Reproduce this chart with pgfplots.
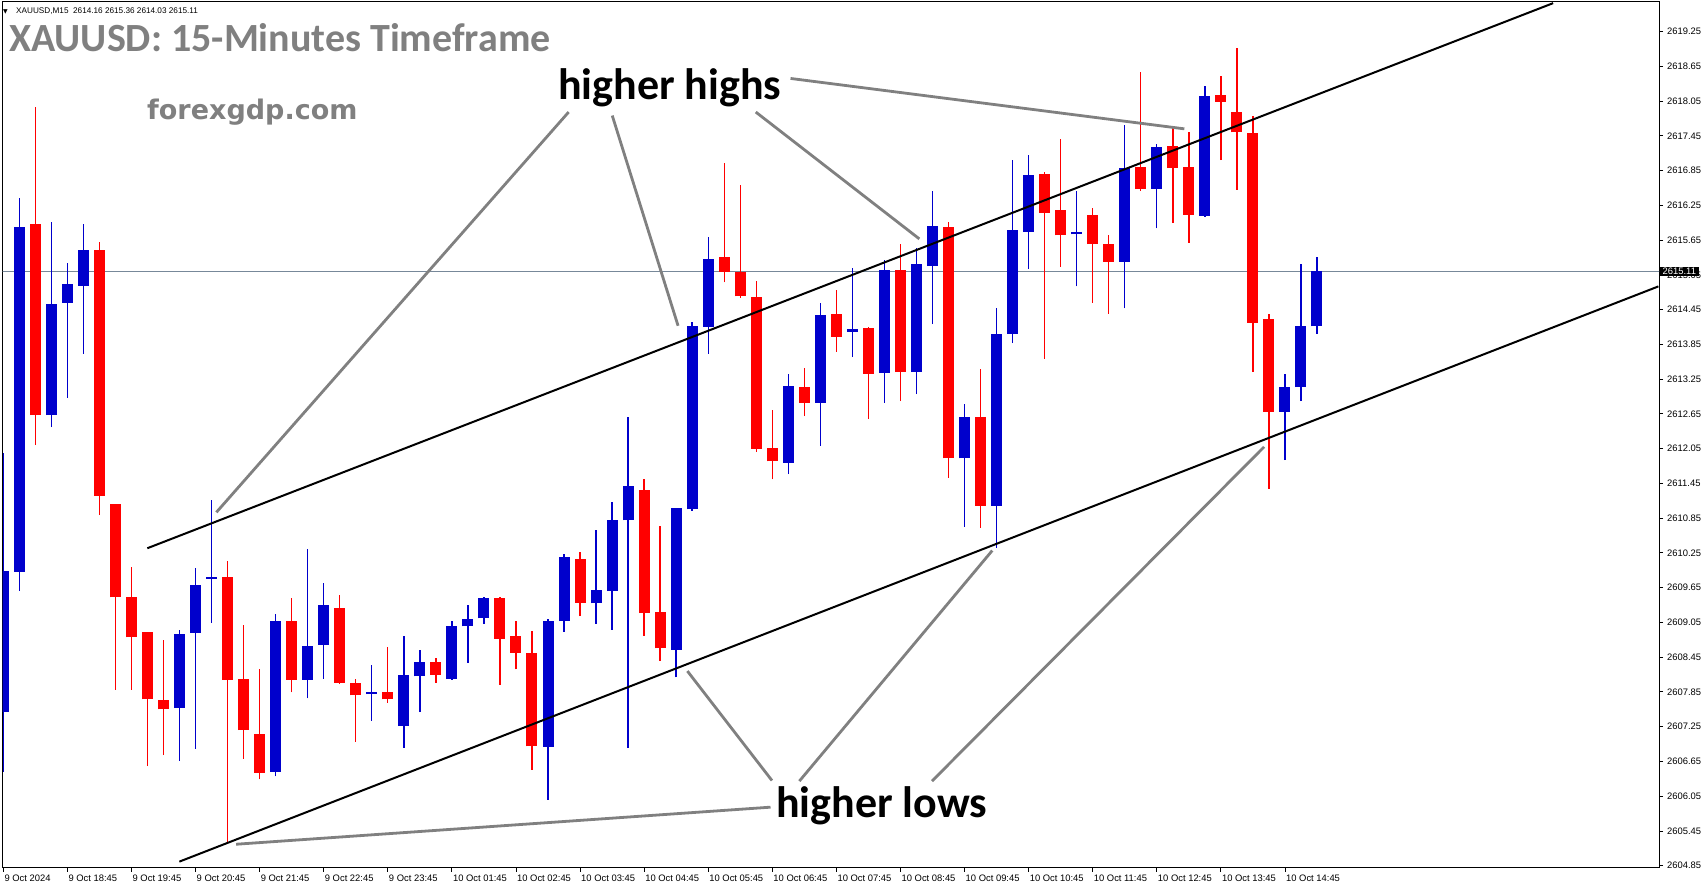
\documentclass[border=0pt]{standalone}
\usepackage{pgfplots}
\pgfplotsset{compat=1.18}
\usepackage{pgfplotstable}
\usepackage{fontspec}
\setmainfont{Liberation Sans}
\newfontfamily\calfont{Carlito}
\newfontfamily\dvfont{DejaVu Sans}
\definecolor{cblue}{RGB}{0,0,204}
\definecolor{cred}{RGB}{255,0,0}
\definecolor{cgray}{RGB}{128,128,128}
\definecolor{pline}{RGB}{119,136,153}

% bullish (blue) candles: index, open, high, low, close
\pgfplotstableread{
i o h l c
0 2607.51 2611.98 2606.47 2609.94
1 2609.92 2616.38 2609.60 2615.88
3 2612.63 2615.97 2612.42 2614.54
4 2614.57 2615.26 2612.93 2614.90
5 2614.86 2615.92 2613.69 2615.48
11 2607.57 2608.92 2606.66 2608.85
12 2608.87 2609.99 2606.87 2609.69
13 2609.80 2611.17 2609.04 2609.84
17 2606.47 2609.19 2606.39 2609.08
19 2608.06 2610.31 2607.74 2608.64
20 2608.66 2609.73 2608.08 2609.35
23 2607.81 2608.32 2607.35 2607.85
25 2607.26 2608.81 2606.89 2608.14
26 2608.12 2608.57 2607.50 2608.37
28 2608.07 2609.08 2608.06 2608.98
29 2608.98 2609.35 2608.35 2609.11
30 2609.12 2609.48 2609.03 2609.47
34 2606.90 2609.10 2605.99 2609.08
35 2609.07 2610.23 2608.89 2610.18
37 2609.38 2610.65 2609.03 2609.61
38 2609.59 2611.12 2608.92 2610.81
39 2610.81 2612.59 2606.89 2611.41
42 2608.58 2611.03 2608.10 2611.02
43 2611.00 2614.24 2610.98 2614.17
44 2614.15 2615.70 2613.69 2615.33
49 2611.81 2613.33 2611.61 2613.13
51 2612.84 2614.57 2612.10 2614.35
53 2614.07 2615.16 2613.63 2614.12
55 2613.36 2615.31 2612.84 2615.13
57 2613.37 2615.52 2612.99 2615.23
58 2615.20 2616.50 2614.20 2615.89
60 2611.88 2612.82 2610.70 2612.60
62 2611.06 2614.47 2610.34 2614.03
63 2614.03 2617.04 2613.87 2615.83
64 2615.79 2617.12 2615.15 2616.78
67 2615.75 2616.50 2614.85 2615.79
70 2615.28 2617.64 2614.47 2616.90
72 2616.54 2617.31 2615.85 2617.26
75 2616.07 2618.31 2616.05 2618.13
80 2612.69 2613.33 2611.85 2613.11
81 2613.11 2615.23 2612.87 2614.16
82 2614.16 2615.36 2614.03 2615.11
}\bull

% bearish (red) candles: index, open, high, low, close
\pgfplotstableread{
i o h l c
2 2615.93 2617.94 2612.11 2612.63
6 2615.48 2615.61 2610.90 2611.24
7 2611.09 2611.10 2607.89 2609.48
8 2609.48 2610.00 2607.89 2608.79
9 2608.88 2608.89 2606.57 2607.72
10 2607.71 2608.75 2606.76 2607.55
14 2609.84 2610.11 2605.23 2608.06
15 2608.07 2609.01 2606.70 2607.19
16 2607.12 2608.25 2606.34 2606.45
18 2609.08 2609.47 2607.84 2608.06
21 2609.30 2609.52 2607.99 2608.01
22 2608.01 2608.08 2606.99 2607.79
24 2607.85 2608.62 2607.66 2607.72
27 2608.37 2608.43 2608.01 2608.15
31 2609.47 2609.48 2607.97 2608.77
32 2608.81 2609.08 2608.24 2608.53
33 2608.53 2608.91 2606.51 2606.91
36 2610.14 2610.26 2609.16 2609.39
40 2611.33 2611.52 2608.82 2609.21
41 2609.23 2610.71 2608.39 2608.60
45 2615.35 2616.98 2614.92 2615.10
46 2615.10 2616.60 2614.65 2614.68
47 2614.67 2614.95 2612.00 2612.05
48 2612.06 2612.72 2611.52 2611.83
50 2613.12 2613.45 2612.61 2612.84
52 2614.38 2614.78 2613.72 2613.98
54 2614.14 2614.15 2612.56 2613.34
56 2615.13 2615.59 2612.87 2613.37
59 2615.88 2615.97 2611.55 2611.88
61 2612.60 2613.43 2610.68 2611.06
65 2616.79 2616.83 2613.60 2616.12
66 2616.17 2617.40 2615.19 2615.73
68 2616.08 2616.21 2614.57 2615.58
69 2615.58 2615.73 2614.38 2615.28
71 2616.92 2618.56 2616.50 2616.53
73 2617.27 2617.58 2615.95 2616.89
74 2616.91 2617.52 2615.60 2616.09
76 2618.16 2618.48 2617.03 2618.04
77 2617.86 2618.96 2616.52 2617.51
78 2617.49 2617.80 2613.38 2614.22
79 2614.28 2614.38 2611.36 2612.69
}\bear

\begin{document}
\begin{tikzpicture}[x=1pt,y=1pt]
\useasboundingbox (0pt,0pt) rectangle (1705pt,888pt);
\begin{axis}[
  at={(2.5pt,20pt)}, anchor=south west,
  scale only axis, width=1656.5pt, height=866pt,
  xmin=-0.05, xmax=103.35, ymin=2604.81, ymax=2619.76,
  clip mode=individual,
  axis line style={line width=1pt, black},
  xtick={0,4,...,80},
  xticklabels={9 Oct 2024, 9 Oct 18:45, 9 Oct 19:45, 9 Oct 20:45, 9 Oct 21:45, 9 Oct 22:45, 9 Oct 23:45, 10 Oct 01:45, 10 Oct 02:45, 10 Oct 03:45, 10 Oct 04:45, 10 Oct 05:45, 10 Oct 06:45, 10 Oct 07:45, 10 Oct 08:45, 10 Oct 09:45, 10 Oct 10:45, 10 Oct 11:45, 10 Oct 12:45, 10 Oct 13:45, 10 Oct 14:45},
  ytick={2604.85,2605.45,2606.05,2606.65,2607.25,2607.85,2608.45,2609.05,2609.65,2610.25,2610.85,2611.45,2612.05,2612.65,2613.25,2613.85,2614.45,2615.05,2615.65,2616.25,2616.85,2617.45,2618.05,2618.65,2619.25},
  yticklabels={2604.85,2605.45,2606.05,2606.65,2607.25,2607.85,2608.45,2609.05,2609.65,2610.25,2610.85,2611.45,2612.05,2612.65,2613.25,2613.85,2614.45,2615.05,2615.65,2616.25,2616.85,2617.45,2618.05,2618.65,2619.25},
  xtick pos=bottom, ytick pos=right, yticklabel pos=right,
  tick align=outside, major tick length=4pt,
  tick style={black, line width=0.8pt},
  xticklabel style={anchor=north west, inner sep=0pt, xshift=1pt, yshift=-3pt, font=\fontsize{9.4}{10}\selectfont},
  yticklabel style={anchor=west, inner sep=0pt, xshift=4pt, font=\fontsize{9.4}{11}\selectfont},
]
% bid line
\addplot[pline, line width=1pt, forget plot] coordinates {(-1,2615.11) (104,2615.11)};
% wicks
\addplot[draw=none, mark=none, forget plot, error bars/.cd, y dir=plus, y explicit, error mark=none,
  error bar style={draw=cblue, line width=1.4pt}]
  table[x=i, y=l, y error plus expr={\thisrow{h}-\thisrow{l}}] {\bull};
\addplot[draw=none, mark=none, forget plot, error bars/.cd, y dir=plus, y explicit, error mark=none,
  error bar style={draw=cred, line width=1.4pt}]
  table[x=i, y=l, y error plus expr={\thisrow{h}-\thisrow{l}}] {\bear};
% bodies
\addplot[draw=none, mark=none, forget plot, error bars/.cd, y dir=plus, y explicit, error mark=none,
  error bar style={draw=cblue, line width=11pt}]
  table[x=i, y=o, y error plus expr={\thisrow{c}-\thisrow{o}}] {\bull};
\addplot[draw=none, mark=none, forget plot, error bars/.cd, y dir=plus, y explicit, error mark=none,
  error bar style={draw=cred, line width=11pt}]
  table[x=i, y=c, y error plus expr={\thisrow{o}-\thisrow{c}}] {\bear};
% channel lines
\addplot[black, line width=2pt] coordinates {(8.99,2610.33) (96.74,2619.74)};
\addplot[black, line width=2pt] coordinates {(10.99,2604.92) (103.31,2614.85)};
% annotation pointers
\addplot[cgray, line width=2.8pt] coordinates {(35.29,2617.86) (13.30,2610.95)};
\addplot[cgray, line width=2.8pt] coordinates {(38.01,2617.80) (42.12,2614.17)};
\addplot[cgray, line width=2.8pt] coordinates {(46.97,2617.86) (57.18,2615.67)};
\addplot[cgray, line width=2.8pt] coordinates {(49.14,2618.44) (73.72,2617.57)};
\addplot[cgray, line width=2.8pt] coordinates {(47.89,2605.86) (14.53,2605.22)};
\addplot[cgray, line width=2.8pt] coordinates {(47.98,2606.32) (42.70,2608.21)};
\addplot[cgray, line width=2.8pt] coordinates {(49.69,2606.31) (61.73,2610.29)};
\addplot[cgray, line width=2.8pt] coordinates {(57.97,2606.31) (78.70,2612.08)};
\coordinate (pl) at (axis cs:103.35,2615.11);
\end{axis}
\node[anchor=west, fill=black, text=white, inner xsep=2.5pt, inner ysep=1.5pt, font=\fontsize{9.4}{11}\selectfont] at ([xshift=1pt]pl) {2615.11};
% texts
\node[anchor=west, inner sep=0pt, font=\dvfont\fontsize{6}{7}\selectfont] at (3pt,876pt) {▼};
\node[anchor=base west, inner sep=0pt, font=\fontsize{8.2}{10}\selectfont] at (16pt,874.5pt) {XAUUSD,M15\ \ 2614.16 2615.36 2614.03 2615.11};
\node[anchor=base west, inner sep=0pt, text=cgray, font=\calfont\bfseries\fontsize{40}{44}\selectfont] at (9pt,836pt) {XAUUSD: 15-Minutes Timeframe};
\node[anchor=base west, inner sep=0pt, text=cgray, font=\dvfont\bfseries\fontsize{27}{30}\selectfont] at (147pt,768.5pt) {forexgdp.com};
\node[anchor=base west, inner sep=0pt, font=\calfont\bfseries\fontsize{44}{48}\selectfont] at (558pt,788pt) {higher highs};
\node[anchor=base west, inner sep=0pt, font=\calfont\bfseries\fontsize{44}{48}\selectfont] at (776pt,70.3pt) {higher lows};
\end{tikzpicture}
\end{document}
